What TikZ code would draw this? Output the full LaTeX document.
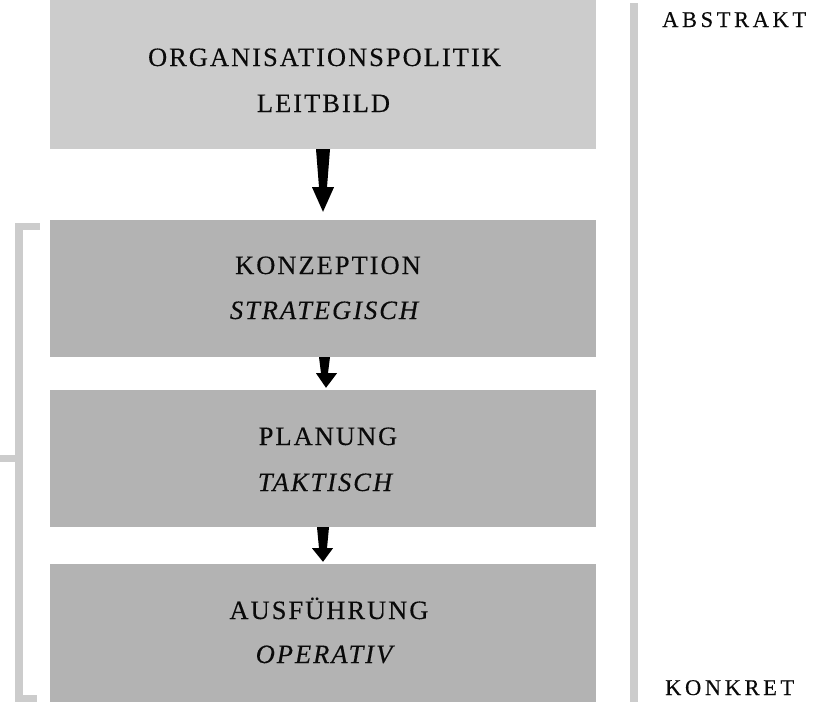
\documentclass[tikz,border=0pt]{standalone}
\usepackage{fontspec}
\setmainfont{Liberation Serif}
\newfontfamily\spacedfont[LetterSpace=7.5,FakeBold=0.25]{Liberation Serif}
\newfontfamily\widespacedfont[LetterSpace=16,FakeBold=0.25]{Liberation Serif}
\usetikzlibrary{calc}
\definecolor{lightgrey}{HTML}{CCCCCC}
\definecolor{darkgrey}{HTML}{B3B3B3}
\definecolor{inkcol}{HTML}{0A0A0A}
\tikzset{
  boxbase/.style={rectangle, draw=none, inner sep=0pt, minimum width=546pt},
  topbox/.style={boxbase, fill=lightgrey},
  levelbox/.style={boxbase, fill=darkgrey},
  bigtext/.style={anchor=base, inner sep=0pt, text=inkcol, font=\spacedfont\fontsize{26.5}{30}\selectfont},
  smalltext/.style={anchor=base west, inner sep=0pt, text=inkcol, font=\widespacedfont\fontsize{22.5}{26}\selectfont},
  arrowfill/.style={fill=black, draw=none},
  barfill/.style={fill=lightgrey, draw=none}
}
\begin{document}
\begin{tikzpicture}[x=1pt,y=-1pt]
\useasboundingbox (0,0) rectangle (819,702);
% boxes
\node[topbox, minimum height=149pt] (b1) at (323,74.5) {};
\node[levelbox, minimum height=137pt] (b2) at (323,288.5) {};
\node[levelbox, minimum height=137pt] (b3) at (323,458.5) {};
\node[levelbox, minimum height=138pt] (b4) at (323,633) {};
% texts
\node[bigtext] (t1a) at (324.5,66) {ORGANISATIONSPOLITIK};
\node[bigtext] (t1b) at (323.5,112) {LEITBILD};
\node[bigtext] (t2a) at (328,274) {KONZEPTION};
\node[bigtext] (t2b) at (324,319) {\itshape STRATEGISCH};
\node[bigtext] (t3a) at (328,445) {PLANUNG};
\node[bigtext] (t3b) at (325,491) {\itshape TAKTISCH};
\node[bigtext] (t4a) at (329,619) {AUSFÜHRUNG};
\node[bigtext] (t4b) at (324,663) {\itshape OPERATIV};
\node[smalltext] (abs) at (662,27) {ABSTRAKT};
\node[smalltext] (kon) at (665,695) {KONKRET};
% right bar
\fill[barfill] (630,3) rectangle (638,702);
% left bracket
\fill[barfill] (15,223) rectangle (40,230);
\fill[barfill] (15,223) rectangle (23,702);
\fill[barfill] (15,695) rectangle (37,702);
\fill[barfill] (0,455) rectangle (15,462);
% arrows
\fill[arrowfill] ($(b1.south)+(-7,0)$) -- ($(b1.south)+(7,0)$) -- ($(b1.south)+(4,38)$) -- ($(b1.south)+(11,38)$)
  -- ($(b2.north)+(0,-8)$) -- ($(b1.south)+(-11,38)$) -- ($(b1.south)+(-4,38)$) -- cycle;
\fill[arrowfill] ($(b2.south)+(-4,0)$) -- ($(b2.south)+(7,0)$) -- ($(b2.south)+(5,16)$) -- ($(b2.south)+(14,16)$)
  -- ($(b3.north)+(3,-2)$) -- ($(b2.south)+(-7,16)$) -- ($(b2.south)+(-2,16)$) -- cycle;
\fill[arrowfill] ($(b3.south)+(-6,0)$) -- ($(b3.south)+(6,0)$) -- ($(b3.south)+(4,21)$) -- ($(b3.south)+(10,21)$)
  -- ($(b4.north)+(0,-2)$) -- ($(b3.south)+(-11,21)$) -- ($(b3.south)+(-4,21)$) -- cycle;
\end{tikzpicture}
\end{document}
